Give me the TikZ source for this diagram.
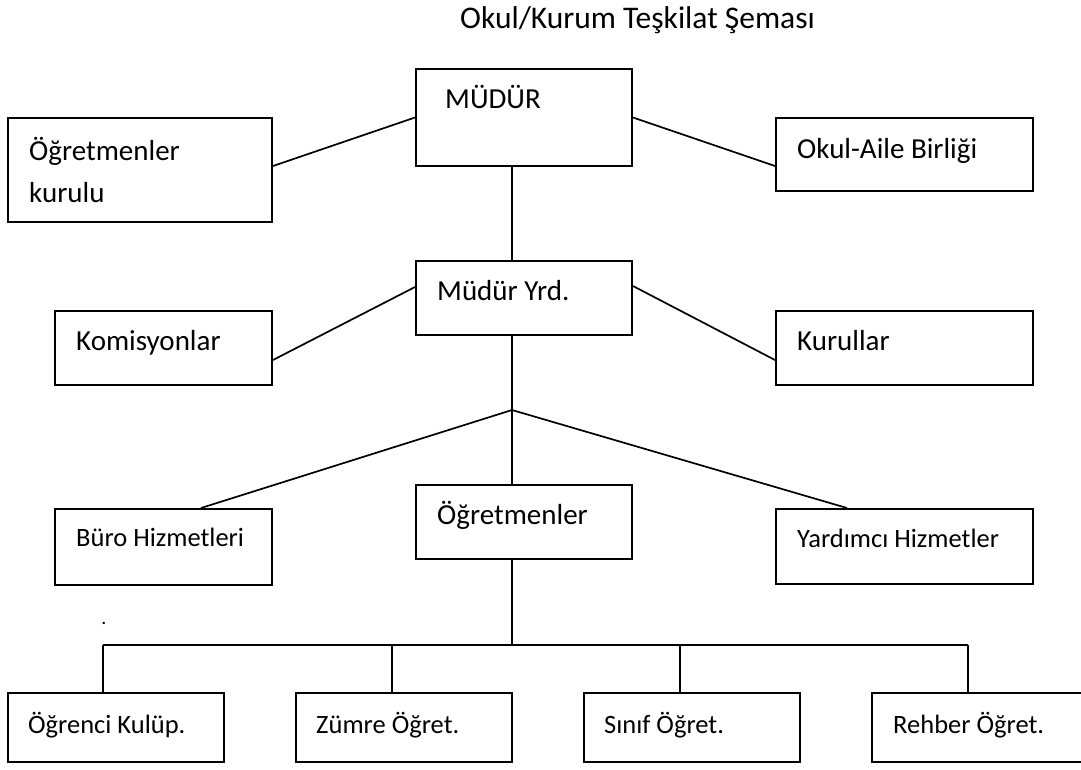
\documentclass[tikz,border=0pt]{standalone}
\usepackage{fontspec}
\setmainfont{Carlito}
\begin{document}
\begin{tikzpicture}[x=1pt,y=-1pt,
  box/.style={draw=black, line width=2pt, rectangle, inner sep=0pt, fill=white},
  conn/.style={draw=black, line width=1.7pt},
  lbl/.style={anchor=base west, inner sep=0pt, font=\fontsize{29}{35}\selectfont},
  slbl/.style={anchor=base west, inner sep=0pt, font=\fontsize{26.5}{32}\selectfont}]
\fill[white] (0,0) rectangle (1081,769);
\useasboundingbox (0,0) rectangle (1081,769);

% title
\node[anchor=base west, inner sep=0pt, font=\fontsize{31.5}{38}\selectfont] (title) at (460,28) {Okul/Kurum Teşkilat Şeması};

\coordinate (J) at (512,410);
\coordinate (bl) at (103,645);
\coordinate (br) at (968,645);
\coordinate (bm) at (512,645);

% boxes
\node[box, minimum width=216pt, minimum height=97pt] (mudur) at (524,117.5) {};
\node[box, minimum width=264pt, minimum height=104pt] (ogk) at (140,170) {};
\node[box, minimum width=257pt, minimum height=73pt] (oab) at (904.5,154.5) {};
\node[box, minimum width=216pt, minimum height=74pt] (yrd) at (524,298) {};
\node[box, minimum width=217pt, minimum height=74pt] (kom) at (163.5,348) {};
\node[box, minimum width=257pt, minimum height=74pt] (kur) at (904.5,348) {};
\node[box, minimum width=216pt, minimum height=74pt] (ogr) at (524,522) {};
\node[box, minimum width=217pt, minimum height=76pt] (buro) at (163.5,547) {};
\node[box, minimum width=257pt, minimum height=75pt] (yard) at (904.5,546.5) {};
\node[box, minimum width=216pt, minimum height=69pt] (ok1) at (116,727.5) {};
\node[box, minimum width=216pt, minimum height=69pt] (zum) at (404,727.5) {};
\node[box, minimum width=216pt, minimum height=69pt] (sin) at (692,727.5) {};
\node[box, minimum width=216pt, minimum height=69pt] (reh) at (980,727.5) {};

% connectors
\draw[conn] ([yshift=4pt]ogk.east) -- (mudur.west);
\draw[conn] (mudur.east) -- ([yshift=-11.5pt]oab.west);
\draw[conn] ([xshift=-12pt]mudur.south) -- ([xshift=-12pt]yrd.north);
\draw[conn] ([yshift=-12pt]kom.east) -- ([yshift=11pt]yrd.west);
\draw[conn] ([yshift=12pt]yrd.east) -- ([yshift=-12pt]kur.west);
\draw[conn] ([xshift=-12pt]yrd.south) -- (J) -- ([xshift=-12pt]ogr.north);
\draw[conn] (J) -- ([xshift=37.5pt]buro.north);
\draw[conn] (J) -- ([xshift=-57.5pt]yard.north);
\draw[conn] ([xshift=-12pt]ogr.south) -- (bm);
\draw[conn] (bl) -- (br);
\draw[conn] (bl) -- ([xshift=-13pt]ok1.north);
\draw[conn] ([xshift=-12pt]zum.north |- bl) -- ([xshift=-12pt]zum.north);
\draw[conn] ([xshift=-12pt]sin.north |- bl) -- ([xshift=-12pt]sin.north);
\draw[conn] (br) -- ([xshift=-12pt]reh.north);

% texts
\node[lbl] (tmudur) at (445,108) {MÜDÜR};
\node[lbl] (togk1) at (29,160) {Öğretmenler};
\node[lbl] (togk2) at (29,202) {kurulu};
\node[lbl] (toab) at (797,158) {Okul-Aile Birliği};
\node[lbl] (tyrd) at (437,300) {Müdür Yrd.};
\node[lbl] (tkom) at (76,350) {Komisyonlar};
\node[lbl] (tkur) at (797,350) {Kurullar};
\node[lbl] (togr) at (437,524) {Öğretmenler};
\node[slbl] (tburo) at (76,546) {Büro Hizmetleri};
\node[slbl] (tyard) at (797,547) {Yardımcı Hizmetler};
\node[slbl] (tok1) at (28,733) {Öğrenci Kulüp.};
\node[slbl] (tzum) at (316,733) {Zümre Öğret.};
\node[slbl] (tsin) at (604,733) {Sınıf Öğret.};
\node[slbl] (treh) at (893,733) {Rehber Öğret.};
\node[anchor=base, inner sep=0pt, font=\fontsize{20}{24}\selectfont] (dot) at (104,624) {.};
\end{tikzpicture}
\end{document}
